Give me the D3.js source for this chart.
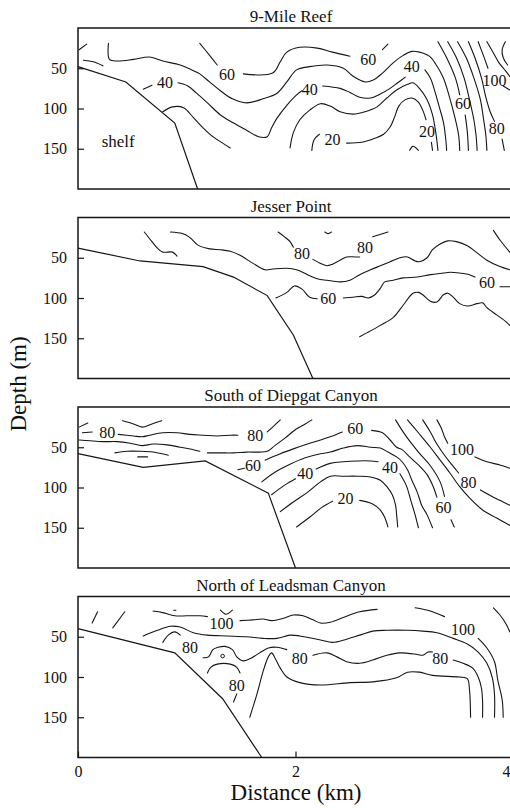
<!DOCTYPE html>
<html><head><meta charset="utf-8">
<script src="https://cdn.jsdelivr.net/npm/d3@7"></script>
<style>
body{margin:0;background:#fff}
svg{display:block}
text{font-family:"Liberation Serif","Times New Roman",serif;fill:#111}
</style>
</head><body>
<svg id="chart" width="510" height="808"></svg>
<script>
// ---------- data (distance km, depth m) ----------
const kmTicks = [0, 2, 4];
const depthTicks = [50, 100, 150];
const panelTitles = ["9-Mile Reef", "Jesser Point", "South of Diepgat Canyon", "North of Leadsman Canyon"];

// 9-Mile Reef
const reefShelf = [[0,48],[0.44,67],[0.89,118],[1.10,200]];
const reefContours = [
  [[0.01,27],[0.08,20]],
  [[0.05,40],[0.14,42],[0.23,47]],
  [[1.12,19],[1.21,34],[1.28,46]],
  [[1.52,57],[1.79,56],[1.86,42],[1.92,30],[2.04,24],[2.20,25],[2.34,30],[2.50,35]],
  [[2.80,27],[2.85,20]],
  [[0.28,19],[0.29,39],[0.36,41],[0.51,39],[0.66,36],[0.78,41],[0.94,46],[1.06,53],[1.12,57],[1.21,67],[1.31,78],[1.42,88],[1.55,93],[1.70,88],[1.83,81],[1.92,67],[2.01,52],[2.13,48],[2.29,46],[2.44,50],[2.53,60],[2.64,67],[2.71,65],[2.80,56],[2.90,43],[2.99,34],[3.07,29],[3.14,30],[3.23,35],[3.29,45],[3.36,62],[3.41,83],[3.46,108],[3.50,133],[3.51,152]],
  [[0.60,76],[0.68,71]],
  [[0.92,68],[1.01,72],[1.09,81],[1.19,93],[1.31,108],[1.43,118],[1.55,127],[1.66,135],[1.74,135],[1.78,124],[1.83,112],[1.92,96],[2.01,83],[2.06,78]],
  [[2.25,72],[2.41,75],[2.50,80],[2.59,86],[2.69,87],[2.78,82],[2.87,75],[2.94,68],[3.01,61]],
  [[3.19,52],[3.24,62],[3.28,78],[3.32,97],[3.36,117],[3.38,136],[3.39,152]],
  [[0.78,104],[0.87,98],[0.97,99],[1.06,111],[1.15,124],[1.24,135],[1.33,143],[1.40,149]],
  [[1.95,149],[1.98,130],[2.04,114],[2.13,102],[2.23,94],[2.32,97],[2.41,104],[2.53,107],[2.64,104],[2.75,98],[2.84,87],[2.93,77],[3.03,70],[3.08,68],[3.14,75],[3.21,89],[3.26,108],[3.29,130],[3.31,152]],
  [[2.15,152],[2.17,139],[2.22,132]],
  [[2.47,143],[2.61,142],[2.73,137],[2.81,132],[2.87,123],[2.91,111],[2.95,97],[3.01,89],[3.07,87],[3.13,92],[3.17,102],[3.20,114]],
  [[3.25,142],[3.26,152]],
  [[3.05,152],[3.08,147],[3.13,152]],
  [[3.31,17],[3.39,37],[3.47,62],[3.51,83]],
  [[3.56,108],[3.58,129],[3.59,152]],
  [[3.40,17],[3.48,37],[3.55,62],[3.60,89],[3.64,114],[3.66,133],[3.67,152]],
  [[3.49,17],[3.57,37],[3.64,62],[3.70,89],[3.73,114],[3.75,133],[3.76,152]],
  [[3.59,17],[3.65,37],[3.71,62],[3.75,86],[3.79,104],[3.83,116]],
  [[3.90,138],[3.92,152]],
  [[3.68,17],[3.73,35],[3.77,50]],
  [[3.91,72],[3.97,77]],
  [[3.76,17],[3.82,31],[3.87,43],[3.93,53],[3.97,60]],
  [[3.93,17],[3.90,27],[3.91,37],[3.95,46]]
];
const reefLabels = [["60",1.37,58],["60",2.67,39],["40",0.80,67],["40",2.13,76],["40",3.07,48],["20",2.34,139],["20",3.21,128],["60",3.54,94],["100",3.83,65],["80",3.85,125]];
const reefText = [["shelf",0.37,140]];

// Jesser Point
const jesserShelf = [[0,38],[0.57,54],[1.15,61],[1.43,74],[1.74,97],[1.98,146],[2.16,200]];
const jesserContours = [
  [[0.61,18],[0.68,30],[0.73,38],[0.78,43],[0.87,43],[0.91,48]],
  [[0.85,18],[0.96,20],[1.03,25],[1.10,34],[1.21,39],[1.31,40],[1.40,42],[1.49,47],[1.61,57],[1.72,65],[1.79,64],[1.92,63],[2.01,65],[2.11,71],[2.20,76],[2.29,78],[2.41,80],[2.50,78],[2.59,71],[2.69,65],[2.78,60],[2.87,55],[2.96,50],[3.03,49],[3.10,54],[3.14,55],[3.21,50],[3.26,40],[3.33,33],[3.40,29],[3.48,30],[3.58,35],[3.67,44],[3.76,53],[3.88,61],[3.97,65]],
  [[1.84,18],[1.90,24],[1.95,30],[1.98,37]],
  [[2.16,52],[2.23,57],[2.29,60],[2.34,58],[2.41,53],[2.47,49],[2.55,49],[2.59,49]],
  [[2.71,24],[2.85,18]],
  [[2.27,18],[2.30,20],[2.33,18]],
  [[1.82,100],[1.92,93],[1.99,85],[2.06,89],[2.13,99],[2.20,101]],
  [[2.44,100],[2.53,99],[2.61,98],[2.67,100],[2.73,96],[2.78,88],[2.82,80],[2.90,78],[2.99,75],[3.12,74],[3.24,71],[3.36,69],[3.42,68],[3.51,69],[3.60,71],[3.65,74]],
  [[3.88,86],[3.97,86]],
  [[2.59,148],[2.66,143],[2.78,134],[2.90,124],[2.99,109],[3.08,94],[3.13,93],[3.17,96],[3.24,104],[3.30,105],[3.36,96],[3.40,94],[3.45,99],[3.51,107],[3.58,110],[3.67,107],[3.72,106],[3.76,112],[3.85,121],[3.94,130],[3.97,134]],
  [[3.82,16],[3.88,28],[3.97,43]]
];
const jesserLabels = [["80",2.06,44],["80",2.64,37],["60",2.30,101],["60",3.76,81]];

// South of Diepgat Canyon
const diepgatShelf = [[0,58],[0.60,75],[1.17,67],[1.75,107],[2.00,200]];
const diepgatContours = [
  [[0.01,25],[0.09,20]],
  [[0.04,32],[0.13,31]],
  [[0.37,34],[0.51,36],[0.59,37],[0.66,35],[0.78,32],[0.91,32],[1.03,34],[1.15,35],[1.28,36],[1.40,35],[1.47,35]],
  [[1.74,31],[1.79,25],[1.86,16]],
  [[0.41,17],[0.51,21],[0.59,25],[0.68,21],[0.77,17]],
  [[0.01,41],[0.11,42],[0.23,43],[0.36,43],[0.48,45],[0.59,48],[0.69,46],[0.82,47],[0.94,50],[1.06,53],[1.12,55]],
  [[0.34,57],[0.45,55],[0.57,55],[0.69,56],[0.83,60]],
  [[0.55,62],[0.64,62]],
  [[1.19,57],[1.31,57],[1.43,57],[1.55,56],[1.67,56],[1.74,55],[1.81,48],[1.90,39],[2.01,27],[2.09,21],[2.15,16]],
  [[1.47,78],[1.53,76]],
  [[1.72,66],[1.86,58],[1.98,52],[2.11,46],[2.23,41],[2.32,37],[2.43,31]],
  [[2.70,29],[2.80,32],[2.87,41],[2.93,50],[2.98,53],[3.05,62],[3.13,72],[3.21,84],[3.26,97],[3.30,112]],
  [[1.69,93],[1.81,81],[1.95,71],[2.09,63],[2.23,58],[2.32,56],[2.44,51],[2.57,48],[2.69,50],[2.78,51],[2.85,56],[2.93,62],[2.98,68],[3.03,78],[3.07,91],[3.12,106],[3.16,122],[3.21,134],[3.26,150]],
  [[1.78,109],[1.90,97],[2.00,89]],
  [[2.19,77],[2.32,70],[2.44,68],[2.57,67],[2.69,67],[2.76,68]],
  [[2.96,83],[3.02,98],[3.06,116],[3.10,134],[3.13,150]],
  [[1.86,130],[1.98,118],[2.11,106],[2.23,93],[2.32,86],[2.44,86],[2.57,86],[2.69,87],[2.78,91],[2.84,99],[2.89,109],[2.92,122],[2.93,134],[2.94,149]],
  [[2.01,149],[2.13,137],[2.24,125],[2.34,117]],
  [[2.59,116],[2.70,120],[2.78,128],[2.82,137],[2.85,149]],
  [[2.92,16],[3.01,35],[3.13,56],[3.24,73],[3.33,93],[3.37,111]],
  [[3.43,140],[3.46,149]],
  [[3.03,16],[3.13,32],[3.24,50],[3.33,66],[3.42,82],[3.51,99],[3.60,113],[3.72,128],[3.85,138],[3.97,147]],
  [[3.17,16],[3.24,31],[3.30,46],[3.37,60],[3.44,72],[3.50,82]],
  [[3.70,103],[3.82,112],[3.91,118],[3.97,122]],
  [[3.30,16],[3.34,26],[3.37,37],[3.40,45]],
  [[3.65,62],[3.76,68],[3.88,72],[3.97,76]]
];
const diepgatLabels = [["80",0.27,32],["80",1.63,35],["60",1.61,72],["60",2.55,27],["40",2.09,83],["40",2.87,75],["20",2.46,113],["60",3.36,125],["80",3.59,94],["100",3.53,53]];

// North of Leadsman Canyon
const leadsmanShelf = [[0,40],[0.89,70],[1.33,127],[1.69,200]];
const leadsmanContours = [
  [[0.13,33],[0.18,19]],
  [[0.32,39],[0.43,19]],
  [[0.69,18],[0.78,20],[0.89,24],[1.00,24],[1.12,24],[1.19,25]],
  [[1.49,30],[1.61,29],[1.70,28],[1.78,30],[1.89,27],[1.98,23],[2.07,24],[2.16,29],[2.23,33],[2.32,32],[2.44,26],[2.59,19],[2.75,16]],
  [[0.88,17],[0.90,17]],
  [[1.31,17],[1.36,22],[1.42,17]],
  [[0.60,49],[0.73,42],[0.85,37],[0.94,38],[1.06,45],[1.19,48],[1.37,49],[1.55,50],[1.70,52],[1.83,52],[1.95,48],[2.04,49],[2.23,54],[2.34,57],[2.47,53],[2.59,48],[2.71,43],[2.84,42],[3.03,42],[3.17,43],[3.30,45],[3.45,52],[3.58,59],[3.68,69],[3.76,83],[3.81,101],[3.83,122],[3.83,150]],
  [[3.10,14],[3.24,18],[3.37,25]],
  [[3.68,52],[3.76,64],[3.83,81],[3.86,104],[3.90,128],[3.91,150]],
  [[3.82,14],[3.88,23],[3.94,35],[3.97,44]],
  [[1.58,150],[1.65,119],[1.70,94],[1.75,75],[1.78,70],[1.81,76],[1.86,89],[1.92,100],[2.04,107],[2.23,110],[2.50,107],[2.71,106],[2.93,101],[3.03,94],[3.14,94],[3.26,98],[3.51,100],[3.58,102],[3.60,116],[3.61,150]],
  [[0.78,57],[0.83,48],[0.89,44],[0.94,48]],
  [[1.15,76],[1.20,75],[1.24,66],[1.29,63],[1.35,62],[1.42,66],[1.46,75],[1.52,80],[1.60,76],[1.67,70],[1.75,64],[1.83,63],[1.92,66]],
  [[2.16,73],[2.29,70],[2.38,75],[2.47,81],[2.59,83],[2.71,79],[2.84,73],[2.96,70],[3.12,72],[3.17,73],[3.22,69],[3.26,69]],
  [[3.45,79],[3.54,83],[3.63,89],[3.68,100],[3.71,114],[3.72,129],[3.72,150]],
  [[1.19,95],[1.22,88],[1.28,84],[1.40,84],[1.46,88],[1.49,95]],
  [[1.43,131],[1.46,121]]
];
const leadsmanPoints = [[1.33,74]];
const leadsmanLabels = [["100",1.32,34],["100",3.54,41],["80",1.03,63],["80",2.04,77],["80",3.33,77],["80",1.46,111]];

// ---------- drawing ----------
const svg = d3.select("#chart");
const panelTops = [28, 217.5, 407, 596.5];
const panelH = 161;
const frameRight = 520;
const x = d3.scaleLinear().domain([0, 4]).range([78, 513]);
const serif = '"Liberation Serif","Times New Roman",serif';

const panels = [
  {shelf: reefShelf, contours: reefContours, labels: reefLabels, text: reefText, points: []},
  {shelf: jesserShelf, contours: jesserContours, labels: jesserLabels, text: [], points: []},
  {shelf: diepgatShelf, contours: diepgatContours, labels: diepgatLabels, text: [], points: []},
  {shelf: leadsmanShelf, contours: leadsmanContours, labels: leadsmanLabels, text: [], points: leadsmanPoints}
];

const ink = "#161616";

panels.forEach((p, i) => {
  const top = panelTops[i];
  const y = d3.scaleLinear().domain([0, 200]).range([top, top + panelH]);
  const g = svg.append("g");

  g.append("text").attr("x", 291).attr("y", top - 6).attr("text-anchor", "middle")
    .attr("font-size", 17).text(panelTitles[i]);

  g.append("path")
    .attr("d", `M${frameRight},${y(0)}H${x(0)}V${y(200)}H${frameRight}`)
    .attr("fill", "none").attr("stroke", ink).attr("stroke-width", 1.5);

  const ay = g.append("g").attr("transform", `translate(${x(0)},0)`)
    .call(d3.axisLeft(y).tickValues(depthTicks).tickSize(-6).tickPadding(11));
  ay.select(".domain").remove();
  ay.selectAll("line").attr("stroke", ink).attr("stroke-width", 1.2);
  ay.selectAll("text").attr("font-size", 16).attr("font-family", serif).attr("fill", "#111");

  const smooth = d3.line().x(d => x(d[0])).y(d => y(d[1])).curve(d3.curveCatmullRom.alpha(0.5));
  const straight = d3.line().x(d => x(d[0])).y(d => y(d[1]));

  g.selectAll("path.contour").data(p.contours).join("path")
    .attr("class", "contour").attr("d", smooth)
    .attr("fill", "none").attr("stroke", ink).attr("stroke-width", 1.1)
    .attr("stroke-linecap", "round").attr("stroke-linejoin", "round");

  g.append("path").datum(p.shelf).attr("d", straight)
    .attr("fill", "none").attr("stroke", ink).attr("stroke-width", 1.2);

  g.selectAll("circle.pt").data(p.points).join("circle")
    .attr("cx", d => x(d[0])).attr("cy", d => y(d[1])).attr("r", 1.8)
    .attr("fill", "none").attr("stroke", ink).attr("stroke-width", 1);

  g.selectAll("text.lab").data(p.labels).join("text")
    .attr("class", "lab").attr("x", d => x(d[1])).attr("y", d => y(d[2]))
    .attr("dy", "0.35em").attr("text-anchor", "middle").attr("font-size", 16)
    .attr("font-family", serif).text(d => d[0]);

  g.selectAll("text.note").data(p.text).join("text")
    .attr("class", "note").attr("x", d => x(d[1])).attr("y", d => y(d[2]))
    .attr("dy", "0.35em").attr("text-anchor", "middle").attr("font-size", 17)
    .attr("font-family", serif).text(d => d[0]);

  if (i === panels.length - 1) {
    const ax = g.append("g").attr("transform", `translate(0,${y(200)})`)
      .call(d3.axisBottom(x).tickValues(kmTicks).tickSize(-6).tickPadding(8).tickFormat(d3.format("d")));
    ax.select(".domain").remove();
    ax.selectAll("line").attr("stroke", ink).attr("stroke-width", 1.2);
    ax.selectAll("text").attr("font-size", 16).attr("font-family", serif).attr("fill", "#111")
      .attr("dx", d => d === kmTicks[kmTicks.length - 1] ? -7 : 0);
  }
});

svg.append("text").attr("x", 296).attr("y", 800).attr("text-anchor", "middle")
  .attr("font-size", 23).attr("font-family", serif).text("Distance (km)");
svg.append("text").attr("transform", "translate(26,384) rotate(-90)")
  .attr("text-anchor", "middle").attr("font-size", 23).attr("font-family", serif).text("Depth (m)");
</script>
</body></html>
